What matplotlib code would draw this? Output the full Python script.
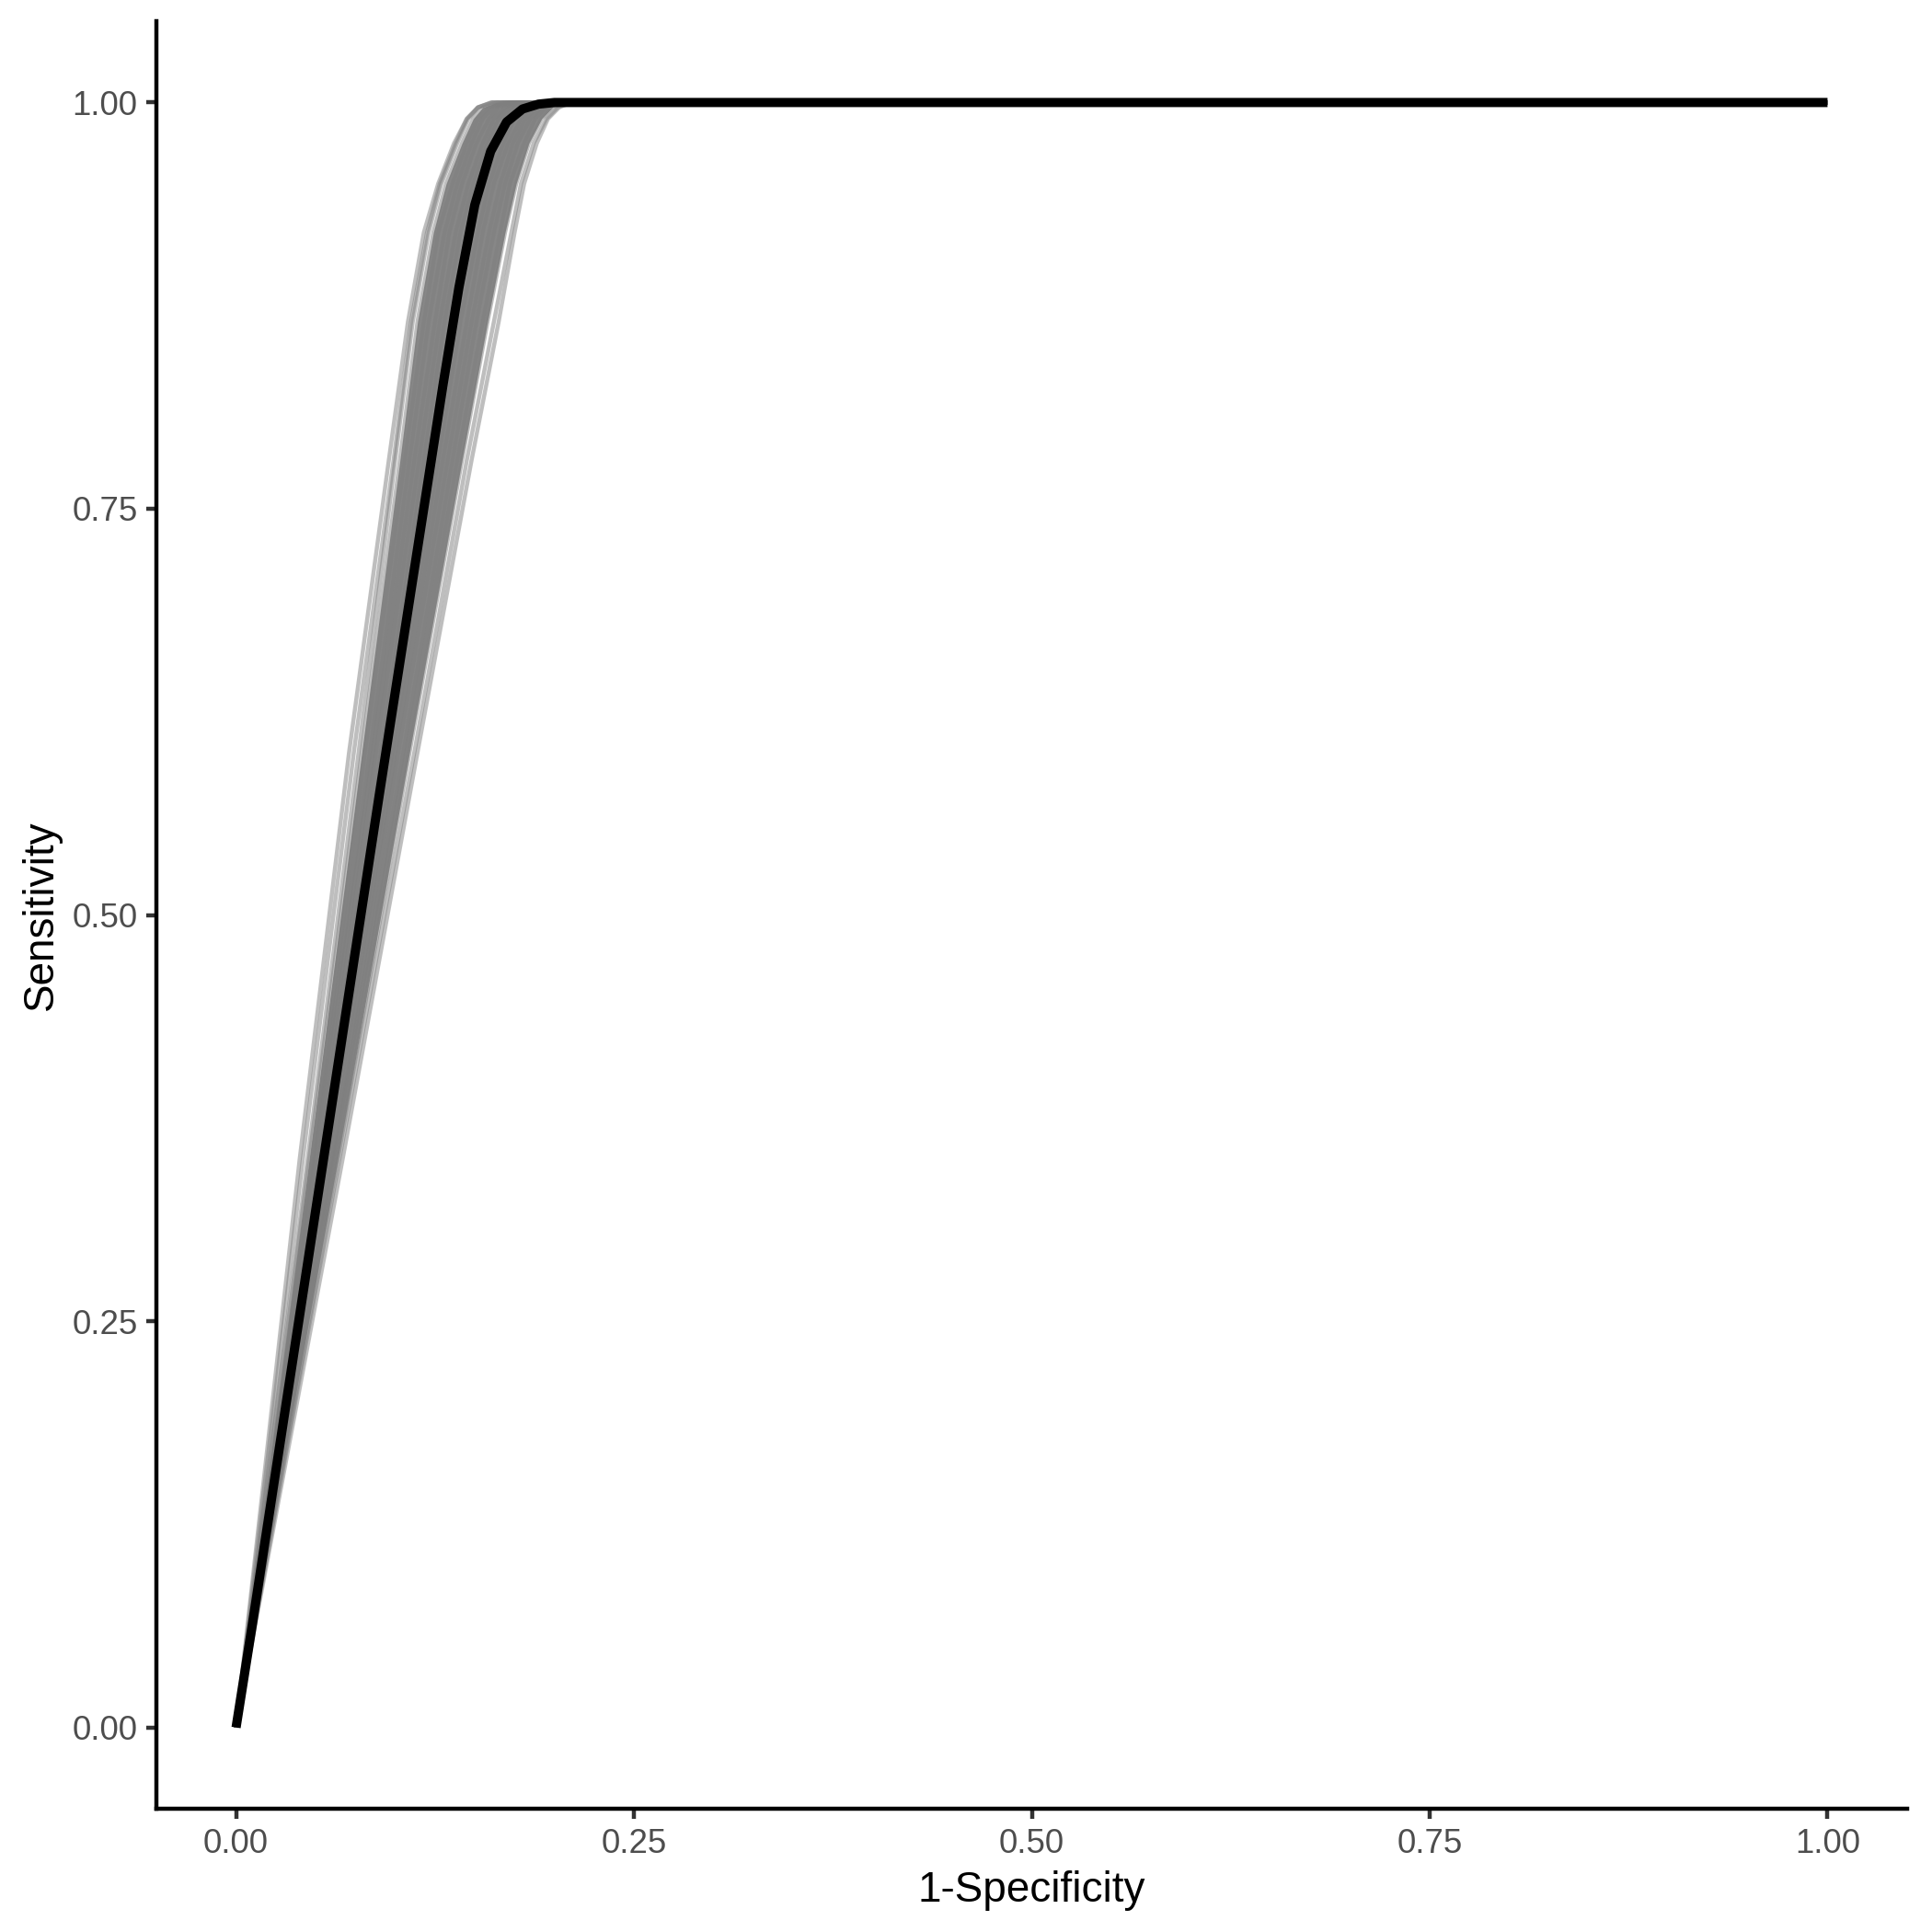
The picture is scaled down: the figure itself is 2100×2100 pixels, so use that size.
import numpy as np
import matplotlib
matplotlib.use("Agg")
import matplotlib.pyplot as plt

plt.rcParams['font.family'] = ['Liberation Sans', 'DejaVu Sans']

# ---- data ----
# mean ROC curve (black)
mean_fpr = [0.00, 0.01, 0.02, 0.03, 0.04, 0.05, 0.06, 0.07, 0.08, 0.09, 0.10,
            0.11, 0.12, 0.13, 0.14, 0.15, 0.16, 0.17, 0.18, 0.19, 0.20, 0.25, 1.00]
mean_tpr = [0.000, 0.062, 0.126, 0.190, 0.254, 0.318, 0.382, 0.446, 0.510, 0.574, 0.637,
            0.700, 0.763, 0.826, 0.886, 0.937, 0.970, 0.988, 0.996, 0.999, 1.000, 1.000, 1.000]

# bootstrap ROC curves (grey): FPR read at shared sensitivity levels
boot_tpr = [0.0, 0.35, 0.60, 0.78, 0.865, 0.92, 0.95, 0.975, 0.99, 0.997, 1.0]
boot_fpr = [
    [0, 0.040, 0.071, 0.096, 0.108, 0.118, 0.127, 0.137, 0.145, 0.152, 0.160],
    [0, 0.042, 0.074, 0.099, 0.110, 0.120, 0.128, 0.138, 0.145, 0.152, 0.161],
    [0, 0.045, 0.077, 0.100, 0.111, 0.121, 0.129, 0.139, 0.146, 0.152, 0.161],
    [0, 0.046, 0.079, 0.103, 0.114, 0.124, 0.132, 0.142, 0.149, 0.155, 0.164],
    [0, 0.048, 0.081, 0.106, 0.118, 0.127, 0.136, 0.145, 0.152, 0.159, 0.168],
    [0, 0.049, 0.084, 0.109, 0.121, 0.131, 0.139, 0.148, 0.155, 0.162, 0.171],
    [0, 0.050, 0.086, 0.112, 0.125, 0.134, 0.142, 0.151, 0.159, 0.165, 0.174],
    [0, 0.052, 0.088, 0.115, 0.128, 0.138, 0.146, 0.155, 0.162, 0.169, 0.177],
    [0, 0.053, 0.091, 0.118, 0.131, 0.141, 0.149, 0.158, 0.165, 0.172, 0.181],
    [0, 0.054, 0.093, 0.121, 0.135, 0.145, 0.152, 0.161, 0.169, 0.175, 0.184],
    [0, 0.056, 0.095, 0.124, 0.138, 0.148, 0.156, 0.164, 0.172, 0.179, 0.187],
    [0, 0.057, 0.098, 0.127, 0.141, 0.152, 0.159, 0.168, 0.175, 0.182, 0.190],
    [0, 0.058, 0.100, 0.130, 0.145, 0.155, 0.162, 0.171, 0.179, 0.185, 0.194],
    [0, 0.060, 0.102, 0.133, 0.148, 0.159, 0.166, 0.174, 0.182, 0.189, 0.197],
    [0, 0.061, 0.105, 0.136, 0.151, 0.162, 0.169, 0.177, 0.185, 0.192, 0.200],
    [0, 0.062, 0.107, 0.139, 0.155, 0.166, 0.172, 0.181, 0.188, 0.195, 0.204],
    [0, 0.064, 0.109, 0.142, 0.158, 0.169, 0.176, 0.184, 0.192, 0.199, 0.207],
    [0, 0.065, 0.112, 0.145, 0.162, 0.173, 0.179, 0.187, 0.195, 0.202, 0.210],
    [0, 0.067, 0.114, 0.148, 0.165, 0.175, 0.181, 0.189, 0.196, 0.203, 0.211],
]

x_ticks = [0.00, 0.25, 0.50, 0.75, 1.00]
y_ticks = [0.00, 0.25, 0.50, 0.75, 1.00]
x_label = "1-Specificity"
y_label = "Sensitivity"

# ---- plot ----
fig = plt.figure(figsize=(7, 7), dpi=300)
ax = fig.add_axes([0.0810, 0.0638, 0.9871 - 0.0810, 0.989 - 0.0638])

grey = '#7F7F7F'
tpr_arr = np.array(boot_tpr)
fpr_arr = np.array(boot_fpr)
# dense core where the many bootstrap curves overlap
ax.fill_betweenx(tpr_arr, fpr_arr[3], fpr_arr[-3], color='#878787', lw=0, zorder=1)
for f in boot_fpr:
    ax.plot(list(f) + [1.0], boot_tpr + [1.0], color=grey, alpha=0.5,
            lw=1.07, solid_capstyle='butt', zorder=2)

ax.plot(mean_fpr, mean_tpr, color='black', lw=2.4, solid_capstyle='butt',
        solid_joinstyle='round', zorder=3)

ax.set_xlim(-0.05, 1.05)
ax.set_ylim(-0.05, 1.05)
ax.set_xticks(x_ticks)
ax.set_yticks(y_ticks)
ax.set_xticklabels([f"{v:.2f}" for v in x_ticks])
ax.set_yticklabels([f"{v:.2f}" for v in y_ticks])

for side in ['top', 'right']:
    ax.spines[side].set_visible(False)
for side in ['left', 'bottom']:
    ax.spines[side].set_linewidth(1.07)
    ax.spines[side].set_color('black')
    ax.spines[side].set_capstyle('projecting')

ax.tick_params(axis='both', length=2.75, width=1.07, color='#333333',
               labelcolor='#4D4D4D', labelsize=8.8, pad=2.2)
ax.set_xlabel(x_label, fontsize=11, color='black', labelpad=2.75)
ax.set_ylabel(y_label, fontsize=11, color='black', labelpad=2.75)

fig.savefig("out.png", dpi=300, facecolor='white')
